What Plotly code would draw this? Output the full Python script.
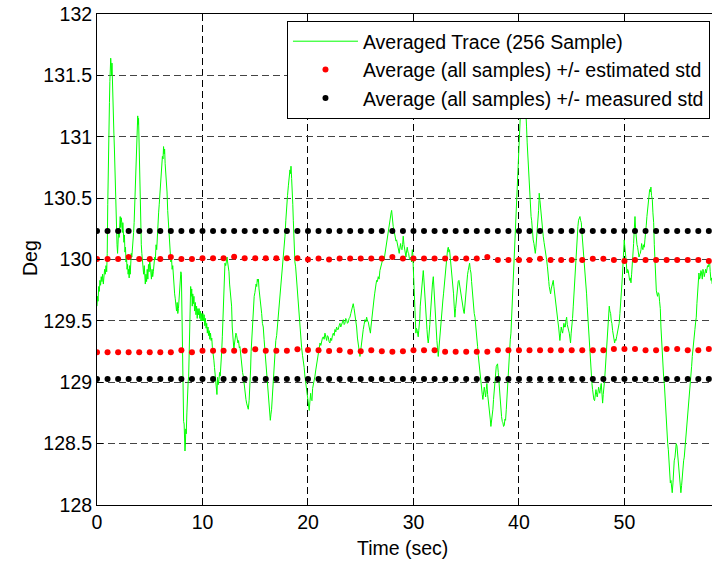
import plotly.graph_objects as go

# ---------------- data ----------------
# Averaged trace: (time [s], value [deg]) pairs, split by 10 s stretches
trace_00_10 = [
    (0.00, 129.62), (0.05, 129.70), (0.10, 129.66), (0.16, 129.78), (0.22, 129.74), (0.28, 129.83),
    (0.34, 129.79), (0.40, 129.86), (0.47, 129.82), (0.53, 129.88), (0.60, 129.80), (0.66, 129.85),
    (0.72, 129.92), (0.79, 129.88), (0.85, 129.95), (0.92, 129.90), (0.97, 130.05), (1.02, 130.45),
    (1.06, 130.78), (1.10, 130.85), (1.14, 131.15), (1.18, 131.28), (1.22, 131.45), (1.26, 131.52),
    (1.30, 131.64), (1.34, 131.58), (1.38, 131.50), (1.42, 131.60), (1.46, 131.42), (1.50, 131.40),
    (1.55, 131.25), (1.60, 131.03), (1.65, 130.90), (1.70, 130.70), (1.75, 130.60), (1.80, 130.40),
    (1.85, 130.28), (1.90, 130.12), (1.95, 130.05), (2.00, 130.15), (2.05, 130.25), (2.10, 130.18),
    (2.15, 130.30), (2.20, 130.35), (2.25, 130.26), (2.30, 130.34), (2.35, 130.30), (2.40, 130.22),
    (2.45, 130.30), (2.50, 130.20), (2.55, 130.14), (2.60, 130.20), (2.65, 130.06), (2.70, 130.10),
    (2.75, 129.98), (2.80, 130.02), (2.85, 129.92), (2.90, 129.96), (2.95, 129.88), (3.00, 129.92),
    (3.05, 129.85), (3.10, 129.95), (3.15, 129.88), (3.20, 129.98), (3.25, 130.05), (3.30, 130.02),
    (3.35, 130.12), (3.40, 130.10), (3.47, 130.22), (3.52, 130.30), (3.57, 130.42), (3.63, 130.53),
    (3.68, 130.65), (3.73, 130.78), (3.78, 130.92), (3.82, 131.05), (3.86, 131.17), (3.90, 131.10),
    (3.94, 131.15), (3.98, 130.95), (4.02, 130.78), (4.06, 130.60), (4.11, 130.40), (4.15, 130.25),
    (4.20, 130.12), (4.25, 130.05), (4.30, 129.98), (4.36, 129.92), (4.42, 129.88), (4.48, 129.95),
    (4.53, 129.85), (4.58, 129.80), (4.64, 129.88), (4.70, 129.82), (4.76, 129.92), (4.82, 129.84),
    (4.88, 129.96), (4.94, 129.90), (5.00, 130.00), (5.05, 129.94), (5.10, 129.88), (5.16, 129.84),
    (5.22, 129.92), (5.28, 129.86), (5.34, 129.90), (5.40, 129.95), (5.47, 130.02), (5.53, 130.00),
    (5.60, 130.12), (5.66, 130.08), (5.72, 130.22), (5.78, 130.30), (5.84, 130.38), (5.90, 130.45),
    (5.96, 130.55), (6.02, 130.62), (6.08, 130.70), (6.14, 130.78), (6.20, 130.84), (6.26, 130.82),
    (6.31, 130.92), (6.36, 130.86), (6.41, 130.90), (6.46, 130.78), (6.52, 130.72), (6.58, 130.62),
    (6.64, 130.55), (6.70, 130.40), (6.76, 130.30), (6.82, 130.18), (6.88, 130.10), (6.94, 130.04),
    (7.00, 129.98), (7.06, 130.02), (7.12, 129.92), (7.18, 129.95), (7.24, 129.84), (7.30, 129.80),
    (7.36, 129.72), (7.42, 129.68), (7.48, 129.62), (7.54, 129.58), (7.60, 129.65), (7.66, 129.56),
    (7.72, 129.60), (7.78, 129.68), (7.84, 129.75), (7.90, 129.85), (7.95, 129.90), (8.00, 129.88),
    (8.04, 129.55), (8.08, 129.20), (8.12, 129.00), (8.16, 128.80), (8.21, 128.68), (8.26, 128.66),
    (8.30, 128.55), (8.34, 128.44), (8.38, 128.50), (8.42, 128.62), (8.46, 128.58), (8.52, 128.75),
    (8.58, 128.95), (8.64, 129.00), (8.69, 129.05), (8.74, 129.35), (8.78, 129.55), (8.83, 129.65),
    (8.88, 129.78), (8.93, 129.70), (8.98, 129.76), (9.03, 129.62), (9.08, 129.72), (9.13, 129.64),
    (9.19, 129.70), (9.25, 129.58), (9.32, 129.65), (9.38, 129.55), (9.44, 129.62), (9.50, 129.52),
    (9.56, 129.60), (9.62, 129.55), (9.68, 129.60), (9.74, 129.52), (9.80, 129.58), (9.86, 129.50),
    (9.92, 129.56), (9.98, 129.50),
]
trace_10_20 = [
    (10.04, 129.56), (10.10, 129.50), (10.16, 129.55), (10.22, 129.46), (10.28, 129.52), (10.34, 129.44),
    (10.40, 129.48), (10.46, 129.40), (10.52, 129.45), (10.58, 129.38), (10.64, 129.42), (10.70, 129.35),
    (10.76, 129.40), (10.82, 129.34), (10.88, 129.36), (10.94, 129.28), (11.02, 129.24), (11.08, 129.18),
    (11.14, 129.12), (11.20, 129.05), (11.26, 129.00), (11.32, 128.96), (11.37, 128.90), (11.43, 129.04),
    (11.49, 128.98), (11.56, 129.02), (11.62, 129.08), (11.68, 129.05), (11.75, 129.13), (11.82, 129.25),
    (11.88, 129.37), (11.93, 129.52), (11.97, 129.64), (12.02, 129.78), (12.07, 129.90), (12.13, 129.97),
    (12.20, 129.95), (12.26, 130.00), (12.33, 130.02), (12.38, 129.98), (12.45, 129.94), (12.51, 129.90),
    (12.57, 129.80), (12.64, 129.72), (12.70, 129.68), (12.76, 129.62), (12.82, 129.45), (12.86, 129.37),
    (12.92, 129.30), (12.98, 129.26), (13.04, 129.32), (13.10, 129.35), (13.17, 129.40), (13.24, 129.38),
    (13.30, 129.36), (13.36, 129.32), (13.42, 129.34), (13.49, 129.28), (13.55, 129.29), (13.62, 129.22),
    (13.68, 129.18), (13.74, 129.12), (13.80, 129.08), (13.87, 129.05), (13.94, 128.98), (14.00, 128.94),
    (14.06, 128.90), (14.12, 128.86), (14.18, 128.83), (14.26, 128.80), (14.34, 128.78), (14.42, 128.85),
    (14.50, 128.96), (14.56, 129.10), (14.61, 129.25), (14.66, 129.35), (14.72, 129.48), (14.78, 129.56),
    (14.84, 129.64), (14.90, 129.70), (14.97, 129.73), (15.03, 129.76), (15.08, 129.80), (15.14, 129.78),
    (15.20, 129.84), (15.26, 129.82), (15.30, 129.84), (15.36, 129.76), (15.42, 129.72), (15.48, 129.68),
    (15.55, 129.62), (15.61, 129.56), (15.68, 129.48), (15.76, 129.45), (15.84, 129.35), (15.92, 129.26),
    (16.00, 129.18), (16.06, 129.10), (16.14, 129.04), (16.22, 128.94), (16.30, 128.86), (16.36, 128.76),
    (16.43, 128.69), (16.49, 128.74), (16.55, 128.78), (16.62, 128.88), (16.71, 129.02), (16.79, 129.18),
    (16.87, 129.28), (16.95, 129.34), (17.03, 129.38), (17.11, 129.46), (17.19, 129.53), (17.27, 129.60),
    (17.34, 129.67), (17.42, 129.74), (17.50, 129.82), (17.58, 129.92), (17.66, 130.05), (17.74, 130.12),
    (17.82, 130.19), (17.90, 130.32), (17.98, 130.46), (18.06, 130.52), (18.14, 130.60), (18.22, 130.68),
    (18.29, 130.73), (18.35, 130.70), (18.39, 130.76), (18.45, 130.66), (18.51, 130.59), (18.56, 130.45),
    (18.61, 130.32), (18.66, 130.18), (18.70, 130.05), (18.76, 129.98), (18.83, 129.94), (18.90, 129.86),
    (18.96, 129.78), (19.02, 129.72), (19.08, 129.64), (19.16, 129.52), (19.24, 129.40), (19.32, 129.33),
    (19.40, 129.28), (19.48, 129.22), (19.56, 129.18), (19.64, 129.12), (19.71, 129.05), (19.79, 129.00),
    (19.87, 128.93), (19.95, 128.88),
]
trace_20_30 = [
    (20.03, 128.82), (20.08, 128.78), (20.12, 128.77), (20.18, 128.84), (20.25, 128.91), (20.31, 128.86),
    (20.38, 128.85), (20.44, 128.95), (20.50, 128.99), (20.58, 129.02), (20.66, 129.05), (20.74, 129.10),
    (20.82, 129.15), (20.90, 129.20), (20.98, 129.24), (21.06, 129.28), (21.14, 129.32), (21.22, 129.30),
    (21.29, 129.34), (21.37, 129.36), (21.45, 129.37), (21.53, 129.35), (21.61, 129.40), (21.69, 129.37),
    (21.77, 129.34), (21.84, 129.38), (21.92, 129.37), (22.00, 129.33), (22.08, 129.32), (22.16, 129.36),
    (22.24, 129.34), (22.32, 129.38), (22.40, 129.40), (22.48, 129.38), (22.56, 129.43), (22.64, 129.41),
    (22.71, 129.45), (22.79, 129.43), (22.87, 129.43), (22.95, 129.46), (23.03, 129.48), (23.11, 129.45),
    (23.19, 129.47), (23.27, 129.50), (23.35, 129.51), (23.43, 129.47), (23.50, 129.48), (23.58, 129.52),
    (23.66, 129.51), (23.74, 129.48), (23.82, 129.49), (23.90, 129.52), (23.98, 129.53), (24.06, 129.56),
    (24.14, 129.59), (24.22, 129.62), (24.29, 129.64), (24.37, 129.60), (24.45, 129.56), (24.53, 129.50),
    (24.61, 129.45), (24.69, 129.36), (24.77, 129.32), (24.85, 129.25), (24.93, 129.21), (25.00, 129.26),
    (25.08, 129.34), (25.16, 129.38), (25.24, 129.43), (25.32, 129.47), (25.40, 129.51), (25.48, 129.49),
    (25.56, 129.53), (25.64, 129.50), (25.72, 129.49), (25.80, 129.45), (25.87, 129.43), (25.92, 129.40),
    (25.97, 129.45), (26.04, 129.52), (26.10, 129.56), (26.18, 129.62), (26.25, 129.67), (26.32, 129.72),
    (26.38, 129.78), (26.45, 129.80), (26.51, 129.83), (26.58, 129.82), (26.66, 129.86), (26.74, 129.84),
    (26.82, 129.91), (26.90, 129.94), (26.98, 129.97), (27.06, 129.99), (27.14, 130.02), (27.22, 130.00),
    (27.30, 130.05), (27.38, 130.08), (27.45, 130.13), (27.53, 130.17), (27.61, 130.21), (27.71, 130.27),
    (27.77, 130.31), (27.83, 130.35), (27.88, 130.38), (27.93, 130.40), (27.98, 130.33), (28.02, 130.30),
    (28.08, 130.27), (28.15, 130.24), (28.22, 130.20), (28.28, 130.19), (28.34, 130.15), (28.40, 130.16),
    (28.47, 130.12), (28.53, 130.10), (28.59, 130.07), (28.65, 130.05), (28.72, 130.10), (28.78, 130.13),
    (28.84, 130.09), (28.91, 130.08), (28.97, 130.12), (29.03, 130.19), (29.10, 130.12), (29.16, 130.08),
    (29.22, 130.04), (29.29, 130.02), (29.35, 130.07), (29.41, 130.10), (29.48, 130.06), (29.54, 130.05),
    (29.61, 130.01), (29.67, 130.00), (29.75, 130.02), (29.82, 129.98), (29.89, 130.08), (29.94, 130.04),
]
trace_30_40 = [
    (29.98, 129.94), (30.03, 129.80), (30.08, 129.67), (30.14, 129.53), (30.19, 129.46), (30.23, 129.40),
    (30.28, 129.44), (30.33, 129.43), (30.39, 129.40), (30.45, 129.37), (30.50, 129.42), (30.55, 129.45),
    (30.60, 129.52), (30.64, 129.62), (30.70, 129.68), (30.77, 129.75), (30.85, 129.83), (30.93, 129.91),
    (30.98, 129.85), (31.02, 129.78), (31.08, 129.68), (31.15, 129.56), (31.22, 129.48), (31.28, 129.43),
    (31.34, 129.36), (31.40, 129.32), (31.45, 129.36), (31.50, 129.40), (31.55, 129.47), (31.59, 129.53),
    (31.65, 129.63), (31.72, 129.72), (31.80, 129.80), (31.88, 129.86), (31.93, 129.78), (31.97, 129.67),
    (32.03, 129.58), (32.10, 129.45), (32.16, 129.38), (32.22, 129.34), (32.28, 129.28), (32.35, 129.21),
    (32.40, 129.26), (32.45, 129.32), (32.50, 129.38), (32.54, 129.45), (32.60, 129.52), (32.67, 129.56),
    (32.73, 129.62), (32.79, 129.67), (32.85, 129.72), (32.92, 129.78), (32.98, 129.84), (33.05, 129.89),
    (33.11, 129.98), (33.17, 130.05), (33.23, 130.08), (33.30, 130.10), (33.36, 130.06), (33.42, 130.08),
    (33.48, 130.02), (33.55, 130.00), (33.61, 129.94), (33.68, 129.89), (33.74, 129.80), (33.80, 129.72),
    (33.86, 129.62), (33.93, 129.53), (33.99, 129.60), (34.06, 129.67), (34.12, 129.72), (34.18, 129.78),
    (34.24, 129.82), (34.31, 129.83), (34.37, 129.79), (34.44, 129.75), (34.50, 129.72), (34.56, 129.67),
    (34.62, 129.64), (34.69, 129.62), (34.75, 129.58), (34.81, 129.56), (34.88, 129.65), (34.94, 129.72),
    (35.00, 129.78), (35.07, 129.83), (35.13, 129.88), (35.19, 129.91), (35.26, 129.95), (35.32, 129.97),
    (35.38, 129.92), (35.45, 129.89), (35.51, 129.82), (35.57, 129.75), (35.64, 129.68), (35.70, 129.62),
    (35.76, 129.56), (35.83, 129.53), (35.89, 129.45), (35.95, 129.40), (36.02, 129.34), (36.08, 129.29),
    (36.14, 129.22), (36.21, 129.15), (36.27, 129.08), (36.33, 129.02), (36.40, 128.98), (36.46, 128.94),
    (36.52, 128.90), (36.58, 128.86), (36.65, 128.92), (36.71, 128.96), (36.78, 128.92), (36.84, 128.88),
    (36.90, 128.94), (36.96, 128.99), (37.03, 128.90), (37.09, 128.86), (37.15, 128.80), (37.22, 128.75),
    (37.28, 128.70), (37.34, 128.64), (37.40, 128.68), (37.47, 128.72), (37.53, 128.78), (37.59, 128.86),
    (37.66, 128.95), (37.72, 129.04), (37.79, 129.10), (37.85, 129.13), (37.91, 129.14), (37.97, 129.15),
    (38.04, 129.08), (38.10, 128.99), (38.17, 128.92), (38.23, 128.86), (38.29, 128.78), (38.35, 128.72),
    (38.42, 128.68), (38.48, 128.67), (38.54, 128.64), (38.61, 128.65), (38.67, 128.70), (38.73, 128.69),
    (38.80, 128.78), (38.86, 128.88), (38.92, 129.00), (38.99, 129.13), (39.05, 129.22), (39.11, 129.29),
    (39.18, 129.35), (39.24, 129.40), (39.30, 129.52), (39.36, 129.67), (39.43, 129.80), (39.49, 129.94),
    (39.56, 130.08), (39.62, 130.21), (39.68, 130.35), (39.74, 130.49), (39.80, 130.58), (39.87, 130.65),
    (39.92, 130.78), (39.98, 130.90),
]
trace_40_50 = [
    (40.03, 130.98), (40.10, 131.12), (40.16, 131.25), (40.22, 131.35), (40.30, 131.42), (40.38, 131.38),
    (40.46, 131.45), (40.54, 131.40), (40.60, 131.30), (40.66, 131.22), (40.72, 131.08), (40.78, 130.95),
    (40.82, 130.87), (40.88, 130.81), (40.93, 130.70), (40.98, 130.59), (41.04, 130.49), (41.10, 130.42),
    (41.15, 130.35), (41.20, 130.32), (41.25, 130.25), (41.29, 130.21), (41.35, 130.16), (41.42, 130.13),
    (41.48, 130.08), (41.55, 130.05), (41.61, 130.10), (41.67, 130.16), (41.72, 130.22), (41.77, 130.27),
    (41.82, 130.35), (41.86, 130.40), (41.90, 130.48), (41.92, 130.54), (41.96, 130.50), (41.99, 130.48),
    (42.04, 130.42), (42.08, 130.40), (42.14, 130.34), (42.21, 130.27), (42.26, 130.22), (42.30, 130.19),
    (42.38, 130.14), (42.46, 130.10), (42.54, 130.05), (42.62, 130.00), (42.70, 129.94), (42.78, 129.89),
    (42.83, 129.82), (42.87, 129.78), (42.94, 129.74), (43.00, 129.72), (43.06, 129.76), (43.13, 129.78),
    (43.19, 129.80), (43.25, 129.83), (43.31, 129.78), (43.38, 129.72), (43.44, 129.66), (43.50, 129.62),
    (43.57, 129.58), (43.63, 129.53), (43.70, 129.49), (43.76, 129.45), (43.82, 129.40), (43.88, 129.34),
    (43.95, 129.40), (44.01, 129.45), (44.07, 129.42), (44.14, 129.40), (44.20, 129.44), (44.26, 129.48),
    (44.33, 129.45), (44.39, 129.45), (44.45, 129.50), (44.52, 129.53), (44.58, 129.47), (44.64, 129.45),
    (44.70, 129.42), (44.77, 129.40), (44.83, 129.36), (44.89, 129.32), (44.95, 129.40), (45.02, 129.45),
    (45.08, 129.52), (45.15, 129.62), (45.21, 129.72), (45.27, 129.83), (45.34, 129.93), (45.40, 130.05),
    (45.46, 130.12), (45.53, 130.21), (45.59, 130.27), (45.65, 130.32), (45.72, 130.34), (45.78, 130.35),
    (45.84, 130.32), (45.91, 130.30), (45.97, 130.22), (46.03, 130.16), (46.10, 130.08), (46.16, 130.00),
    (46.22, 129.93), (46.28, 129.86), (46.35, 129.80), (46.41, 129.72), (46.47, 129.62), (46.54, 129.51),
    (46.60, 129.40), (46.66, 129.29), (46.72, 129.21), (46.79, 129.13), (46.85, 129.05), (46.92, 128.99),
    (46.98, 128.94), (47.04, 128.88), (47.10, 128.86), (47.17, 128.85), (47.23, 128.90), (47.30, 128.94),
    (47.36, 128.90), (47.42, 128.88), (47.49, 128.92), (47.55, 128.96), (47.61, 128.93), (47.67, 128.91),
    (47.74, 128.96), (47.80, 128.99), (47.86, 128.92), (47.93, 128.83), (47.99, 128.90), (48.05, 128.94),
    (48.12, 129.02), (48.18, 129.10), (48.24, 129.18), (48.31, 129.29), (48.37, 129.36), (48.43, 129.45),
    (48.50, 129.53), (48.56, 129.62), (48.62, 129.58), (48.69, 129.56), (48.75, 129.50), (48.81, 129.48),
    (48.88, 129.42), (48.94, 129.37), (49.00, 129.34), (49.07, 129.32), (49.13, 129.35), (49.19, 129.34),
    (49.26, 129.37), (49.32, 129.40), (49.38, 129.42), (49.44, 129.45), (49.50, 129.48), (49.57, 129.56),
    (49.63, 129.62), (49.70, 129.72), (49.76, 129.80), (49.82, 129.89), (49.88, 129.96), (49.94, 130.05),
    (49.98, 130.16),
]
trace_50_58 = [
    (50.04, 130.10), (50.11, 130.05), (50.17, 129.98), (50.24, 129.89), (50.30, 129.92), (50.36, 129.91),
    (50.43, 129.86), (50.49, 129.83), (50.55, 129.85), (50.62, 129.81), (50.68, 129.88), (50.74, 129.94),
    (50.80, 130.02), (50.87, 130.13), (50.93, 130.24), (51.00, 130.35), (51.06, 130.24), (51.12, 130.16),
    (51.19, 130.12), (51.25, 130.10), (51.31, 130.06), (51.38, 130.02), (51.44, 130.04), (51.50, 130.05),
    (51.57, 130.08), (51.63, 130.13), (51.69, 130.10), (51.75, 130.08), (51.82, 130.12), (51.88, 130.10),
    (51.94, 130.16), (52.01, 130.21), (52.07, 130.28), (52.13, 130.35), (52.20, 130.42), (52.26, 130.49),
    (52.33, 130.53), (52.39, 130.57), (52.45, 130.55), (52.51, 130.59), (52.57, 130.52), (52.64, 130.49),
    (52.70, 130.38), (52.77, 130.30), (52.83, 130.12), (52.89, 129.94), (52.95, 129.82), (53.02, 129.75),
    (53.08, 129.72), (53.14, 129.70), (53.20, 129.73), (53.27, 129.72), (53.33, 129.66), (53.40, 129.60),
    (53.46, 129.45), (53.52, 129.32), (53.58, 129.22), (53.65, 129.13), (53.71, 129.05), (53.78, 128.99),
    (53.84, 128.88), (53.90, 128.77), (53.97, 128.68), (54.03, 128.58), (54.10, 128.50), (54.16, 128.45),
    (54.22, 128.32), (54.28, 128.28), (54.35, 128.18), (54.41, 128.20), (54.47, 128.12), (54.53, 128.10),
    (54.60, 128.18), (54.66, 128.29), (54.72, 128.36), (54.79, 128.39), (54.85, 128.45), (54.91, 128.50),
    (54.98, 128.48), (55.04, 128.42), (55.10, 128.35), (55.17, 128.28), (55.23, 128.18), (55.29, 128.15),
    (55.35, 128.10), (55.42, 128.16), (55.48, 128.24), (55.55, 128.29), (55.61, 128.36), (55.67, 128.39),
    (55.74, 128.46), (55.80, 128.50), (55.86, 128.58), (55.92, 128.64), (55.99, 128.72), (56.05, 128.77),
    (56.11, 128.85), (56.18, 128.91), (56.24, 128.99), (56.30, 129.05), (56.37, 129.13), (56.43, 129.21),
    (56.49, 129.28), (56.56, 129.32), (56.62, 129.40), (56.68, 129.43), (56.75, 129.49), (56.81, 129.53),
    (56.87, 129.64), (56.94, 129.75), (57.00, 129.86), (57.06, 129.89), (57.12, 129.84), (57.19, 129.86),
    (57.25, 129.91), (57.31, 129.89), (57.38, 129.84), (57.44, 129.92), (57.50, 129.90), (57.57, 129.86),
    (57.63, 129.89), (57.69, 129.92), (57.76, 129.89), (57.82, 129.91), (57.88, 129.95), (57.95, 129.94),
    (58.01, 129.97), (58.07, 129.99), (58.13, 129.90), (58.20, 129.83), (58.26, 129.85), (58.32, 129.80),
]

# dot series: one dot per second
dot_t = list(range(0, 59))
est_upper = [130.005, 130.005, 130.005, 130.020, 130.005, 130.005, 130.005, 130.020, 130.005, 130.005,
             130.010, 130.010, 130.010, 130.022, 130.010, 130.010, 130.010, 130.010, 130.010, 130.010,
             130.000, 130.009, 130.000, 130.009, 130.009, 130.009, 130.009, 130.009, 130.020, 130.009,
             130.009, 130.009, 130.009, 130.009, 130.009, 130.009, 130.009, 130.020, 129.996, 129.996,
             129.996, 129.996, 130.007, 129.996, 129.996, 129.996, 129.996, 130.007, 130.007, 129.996,
             129.988, 129.996, 129.996, 129.996, 129.996, 129.996, 129.996, 129.996, 129.988]
est_lower = [129.245, 129.245, 129.245, 129.245, 129.245, 129.245, 129.245, 129.245, 129.260, 129.245,
             129.257, 129.257, 129.257, 129.257, 129.257, 129.268, 129.257, 129.257, 129.257, 129.268,
             129.262, 129.260, 129.255, 129.260, 129.249, 129.252, 129.260, 129.252, 129.249, 129.252,
             129.260, 129.260, 129.260, 129.249, 129.249, 129.249, 129.249, 129.249, 129.260, 129.260,
             129.260, 129.260, 129.260, 129.260, 129.260, 129.260, 129.260, 129.260, 129.260, 129.271,
             129.271, 129.271, 129.260, 129.260, 129.271, 129.271, 129.260, 129.260, 129.271]
meas_upper = [130.233] * 59
meas_lower = [129.026] * 59

x_ticks = [0, 10, 20, 30, 40, 50]
y_ticks = [128, 128.5, 129, 129.5, 130, 130.5, 131, 131.5, 132]
y_tick_text = ["128", "128.5", "129", "129.5", "130", "130.5", "131", "131.5", "132"]

names = ["Averaged Trace (256 Sample)",
         "Average (all samples) +/- estimated std",
         "Average (all samples) +/- measured std"]

# ---------------- figure ----------------
segments = trace_00_10 + trace_10_20 + trace_20_30 + trace_30_40 + trace_40_50 + trace_50_58
trace_t = [p[0] for p in segments]
trace_v = [p[1] for p in segments]

FONT = "Liberation Sans, Arial, Helvetica, sans-serif"
FS = 19.5

fig = go.Figure()
fig.add_trace(go.Scatter(x=trace_t, y=trace_v, mode="lines", name=names[0],
                         line=dict(color="#00FF00", width=1)))
fig.add_trace(go.Scatter(x=dot_t + dot_t, y=est_upper + est_lower, mode="markers", name=names[1],
                         marker=dict(color="#FF0000", size=6, line=dict(width=0))))
fig.add_trace(go.Scatter(x=dot_t + dot_t, y=meas_upper + meas_lower, mode="markers", name=names[2],
                         marker=dict(color="#000000", size=6, line=dict(width=0))))

fig.update_layout(
    width=712, height=563,
    margin=dict(l=97, r=0, t=14, b=58, pad=0),
    paper_bgcolor="white", plot_bgcolor="white",
    font=dict(family=FONT, size=FS, color="black"),
    showlegend=True,
    legend=dict(x=0.9967, xanchor="right", y=0.9857, yanchor="top",
                bgcolor="white", bordercolor="black", borderwidth=1,
                font=dict(family=FONT, size=FS, color="black"),
                itemwidth=65, tracegroupgap=0),
    xaxis=dict(range=[0, 58.3], tickvals=x_ticks, ticks="inside", ticklen=6, tickcolor="black",
               showline=True, linecolor="black", linewidth=1, mirror="ticks",
               showgrid=True, gridcolor="black", gridwidth=1, griddash="7px,4px",
               zeroline=False, tickfont=dict(size=FS)),
    yaxis=dict(range=[128, 132], tickvals=y_ticks, ticktext=y_tick_text, ticks="inside", ticklen=6,
               tickcolor="black", showline=True, linecolor="black", linewidth=1, mirror=False,
               showgrid=True, gridcolor="#444444", gridwidth=1, griddash="7px,4px",
               zeroline=False, tickfont=dict(size=FS)),
    annotations=[
        dict(text="Time (sec)", xref="paper", yref="paper", x=0.496, y=-0.0876,
             xanchor="center", yanchor="middle", showarrow=False, font=dict(size=FS)),
        dict(text="Deg", xref="paper", yref="paper", x=-0.109, y=0.503, textangle=-90,
             xanchor="center", yanchor="middle", showarrow=False, font=dict(size=FS)),
    ],
)

fig.write_html("out.html", config={"displayModeBar": False})
